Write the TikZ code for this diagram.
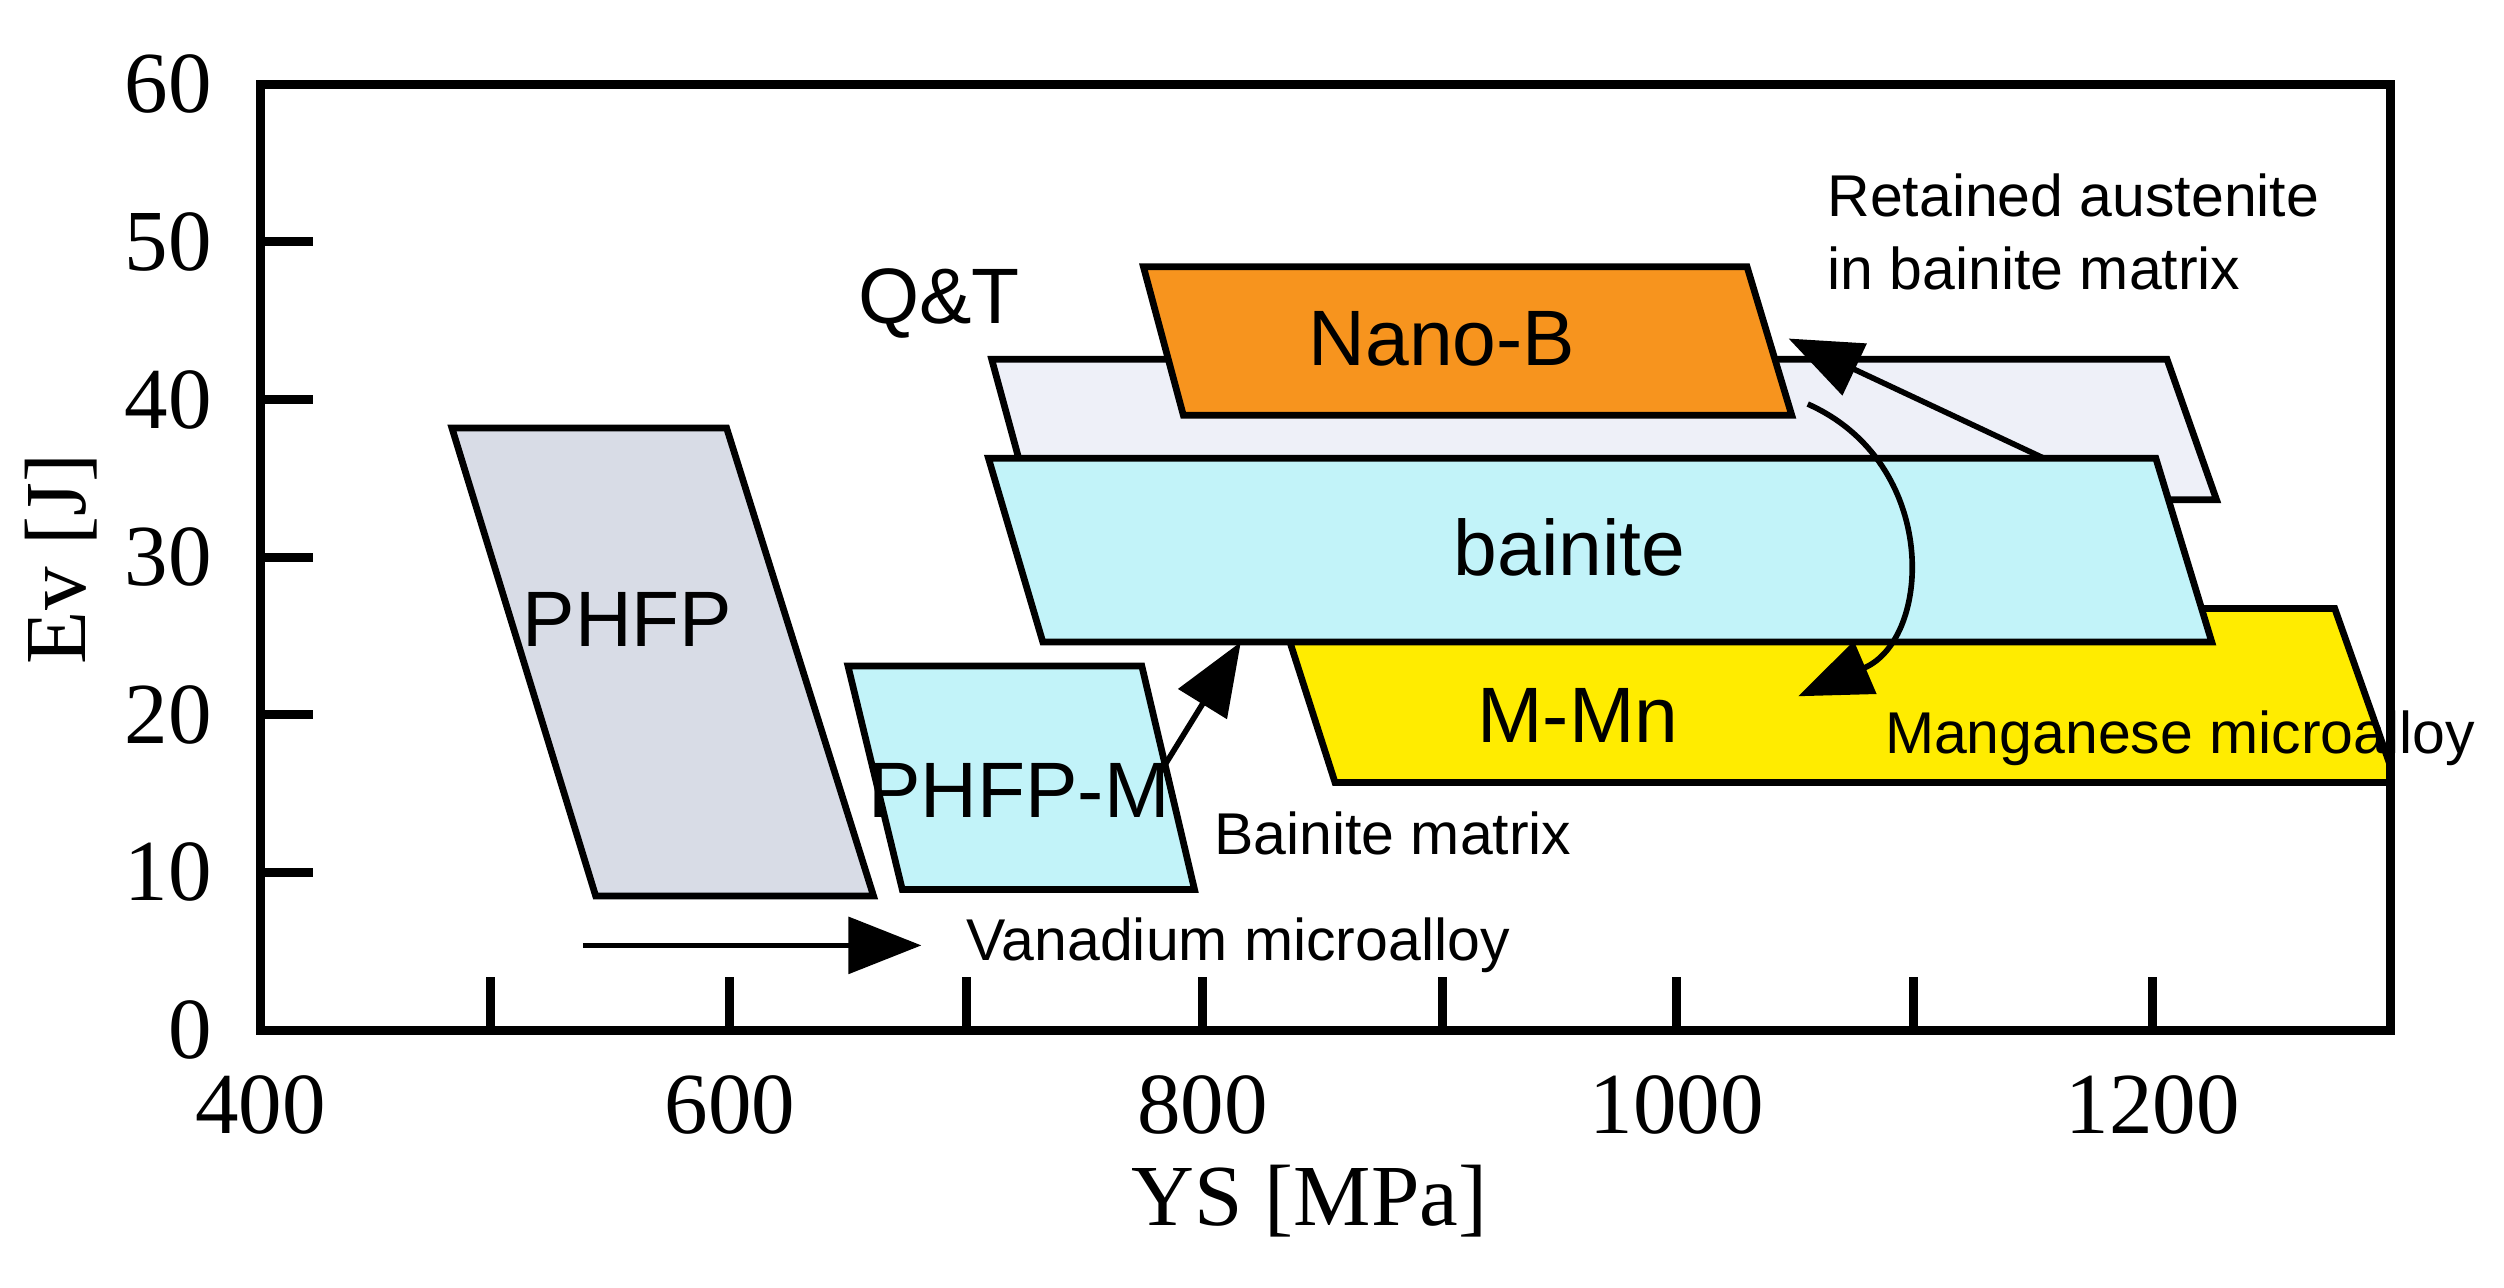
\documentclass[tikz,border=0pt]{standalone}
\usepackage{fontspec}
\setmainfont{Liberation Serif}
\newfontfamily\sansf{Liberation Sans}
\usetikzlibrary{arrows.meta}
\definecolor{phfp}{HTML}{D8DCE6}
\definecolor{cyanb}{HTML}{C2F3F9}
\definecolor{qt}{HTML}{EEF0F8}
\definecolor{nano}{HTML}{F7941E}
\definecolor{yel}{HTML}{FFEC00}
\begin{document}
\begin{tikzpicture}[x=0.01cm,y=-0.01cm,
 reg/.style={draw=black,line width=1.2pt},
 big/.style={font=\sansf\fontsize{14}{17}\selectfont},
 small/.style={font=\sansf\fontsize{10.5}{13}\selectfont},
 num/.style={font=\fontsize{15.5}{18}\selectfont},
 arr/.style={line width=1pt,-{Triangle[length=13pt,width=10pt]}}]
\useasboundingbox (0,0) rectangle (1568,806);
% regions
\filldraw[reg,fill=phfp] (283,268)--(455,268)--(547,561)--(373,561)--cycle;
\filldraw[reg,fill=cyanb] (531,417)--(715,417)--(748,557)--(565,557)--cycle;
\filldraw[reg,fill=yel] (801,381)--(1462,381)--(1497,480)--(1497,490)--(836,490)--cycle;
\filldraw[reg,fill=qt] (621,225)--(1357,225)--(1388,313)--(645,313)--cycle;
\filldraw[reg,fill=cyanb] (619,287)--(1350,287)--(1385,402)--(653,402)--cycle;
\filldraw[reg,fill=nano] (716,167)--(1094,167)--(1122,260)--(741,260)--cycle;
% axes
\draw[line width=1.6pt] (163,53) rectangle (1497,645);
\foreach \x/\l in {163/400,457/600,753/800,1050/1000,1348/1200}{
  \node[num] (xl\l) at (\x,692) {\l};}
\foreach \x in {307,457,605,753,903,1050,1198,1348}{
  \draw[line width=1.6pt] (\x,645)--(\x,612);}
\foreach \v in {0,10,...,60}{
  \pgfmathsetmacro{\py}{645-\v*9.87}
  \draw[line width=1.6pt] (163,\py)--(196,\py);
  \node[num,anchor=east] (yl\v) at (145,\py) {\v};}
\node[num] (xlab) at (820,752) {YS [MPa]};
\node[num,rotate=90] (ylab) at (38,350) {Ev [J]};
% labels
\node[big] (qtl) at (588,190) {Q\&T};
\node[big] (nanol) at (903,212) {Nano-B};
\node[big] (bainl) at (983,343) {bainite};
\node[big] (phfpl) at (393,388) {PHFP};
\node[big] (phfpml) at (638,495) {PHFP-M};
\node[big] (mmnl) at (988,448) {M-Mn};
\node[small,anchor=west] (mang) at (1168,462) {Manganese microalloy};
\node[small,anchor=west] (bmat) at (748,522) {Bainite matrix};
\node[small,anchor=west] (vana) at (593,592) {Vanadium microalloy};
\node[small,anchor=west,align=left] (ret) at (1132,145) {Retained austenite\\in bainite matrix};
% arrows
\coordinate (va) at (365,592); \coordinate (vb) at (577,592);
\draw[arr] (va)--(vb);
\coordinate (pa) at (727,483); \coordinate (pb) at (777,402);
\draw[arr] (pa)--(pb);
\coordinate (ra) at (1280,287); \coordinate (rb) at (1120,212);
\draw[arr] (ra)--(rb);
\coordinate (ca) at (1132,253); \coordinate (cb) at (1126,436);
\draw[arr] (ca) .. controls (1215,290) and (1210,400) .. (cb);
\end{tikzpicture}
\end{document}
